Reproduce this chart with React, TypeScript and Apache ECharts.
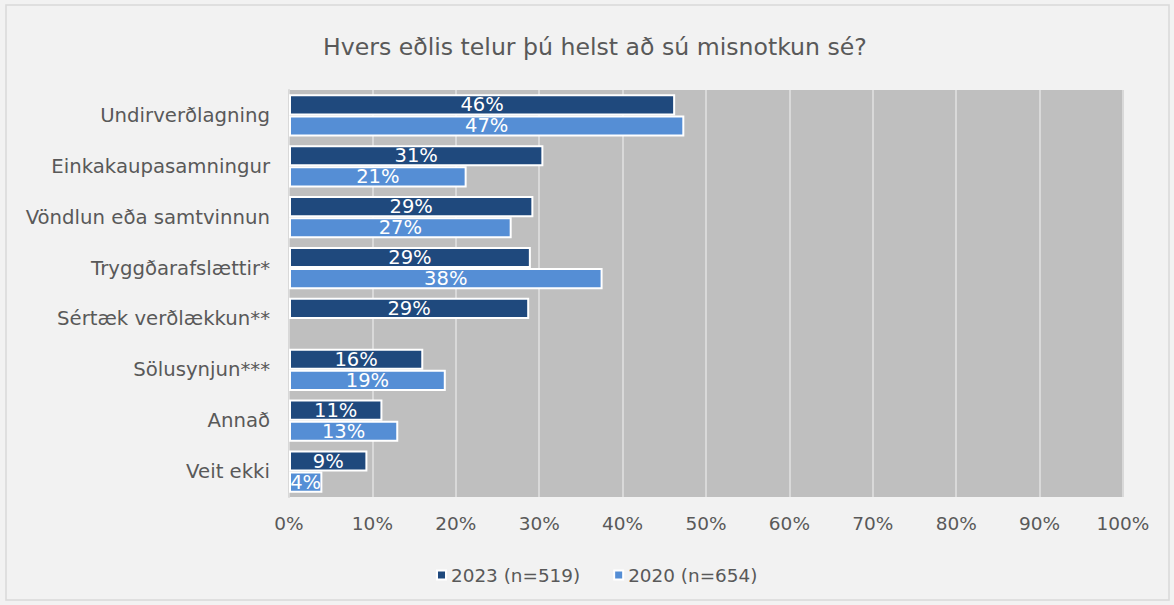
import React, { useEffect, useRef } from "react";
import * as echarts from "echarts";

const title = "Hvers eðlis telur þú helst að sú misnotkun sé?";
const categories = [
  "Undirverðlagning",
  "Einkakaupasamningur",
  "Vöndlun eða samtvinnun",
  "Tryggðarafslættir*",
  "Sértæk verðlækkun**",
  "Sölusynjun***",
  "Annað",
  "Veit ekki",
];
const series2023Name = "2023 (n=519)";
const series2020Name = "2020 (n=654)";
const values2023 = [46.3, 30.5, 29.3, 29.0, 28.8, 16.1, 11.2, 9.4];
const values2020: (number | null)[] = [47.4, 21.3, 26.7, 37.6, null, 18.8, 13.1, 4.0];
const xTicks = [0, 10, 20, 30, 40, 50, 60, 70, 80, 90, 100];

const FONT = "'DejaVu Sans', sans-serif";

export default function App() {
  const ref = useRef<HTMLDivElement>(null);
  useEffect(() => {
    if (!ref.current) return;
    const chart = echarts.init(ref.current, undefined, { renderer: "svg" });
    const label = {
      show: true,
      position: "inside",
      color: "#ffffff",
      fontSize: 19.5,
      lineHeight: 17,
      fontFamily: FONT,
      formatter: (p: any) => Math.round(p.value) + "%",
    };
    chart.setOption({
      animation: false,
      backgroundColor: "#f2f2f2",
      textStyle: { fontFamily: FONT },
      graphic: [
        {
          type: "rect",
          shape: { x: 6, y: 5, width: 1163, height: 595 },
          style: { fill: "none", stroke: "#d9d9d9", lineWidth: 1.5 },
          silent: true,
        },
      ],
      title: {
        text: title,
        left: 318,
        top: 30,
        textStyle: { color: "#595959", fontSize: 23.6, fontWeight: "normal", fontFamily: FONT },
      },
      legend: {
        bottom: 16,
        left: 431,
        itemWidth: 9,
        itemHeight: 9,
        itemGap: 33,
        icon: "rect",
        textStyle: { color: "#595959", fontSize: 18.4, fontFamily: FONT },
        data: [series2023Name, series2020Name],
      },
      grid: {
        left: 289,
        right: 51,
        top: 90,
        bottom: 108,
        show: true,
        backgroundColor: "#bfbfbf",
        borderWidth: 0,
      },
      xAxis: {
        type: "value",
        min: 0,
        max: 100,
        interval: 10,
        axisLabel: {
          color: "#595959",
          fontSize: 18.5,
          fontFamily: FONT,
          margin: 17,
          formatter: (v: number) => (xTicks.includes(v) ? v + "%" : ""),
        },
        axisLine: { show: false },
        axisTick: { show: false },
        splitLine: { show: true, lineStyle: { color: "#d9d9d9", width: 2 } },
      },
      yAxis: {
        type: "category",
        inverse: true,
        data: categories,
        axisLabel: { color: "#595959", fontSize: 19.7, fontFamily: FONT, margin: 19 },
        axisLine: { show: true, lineStyle: { color: "#d9d9d9", width: 2 } },
        axisTick: { show: false },
      },
      series: [
        {
          name: series2023Name,
          type: "bar",
          data: values2023,
          barGap: "0%",
          barCategoryGap: "17%",
          itemStyle: { color: "#1f497d", borderColor: "#ffffff", borderWidth: 2 },
          label,
        },
        {
          name: series2020Name,
          type: "bar",
          data: values2020,
          itemStyle: { color: "#558ed5", borderColor: "#ffffff", borderWidth: 2 },
          label,
        },
      ],
    });
    return () => chart.dispose();
  }, []);
  return (
    <div
      ref={ref}
      style={{ position: "fixed", left: 0, top: 0, width: 1174, height: 605 }}
    />
  );
}
